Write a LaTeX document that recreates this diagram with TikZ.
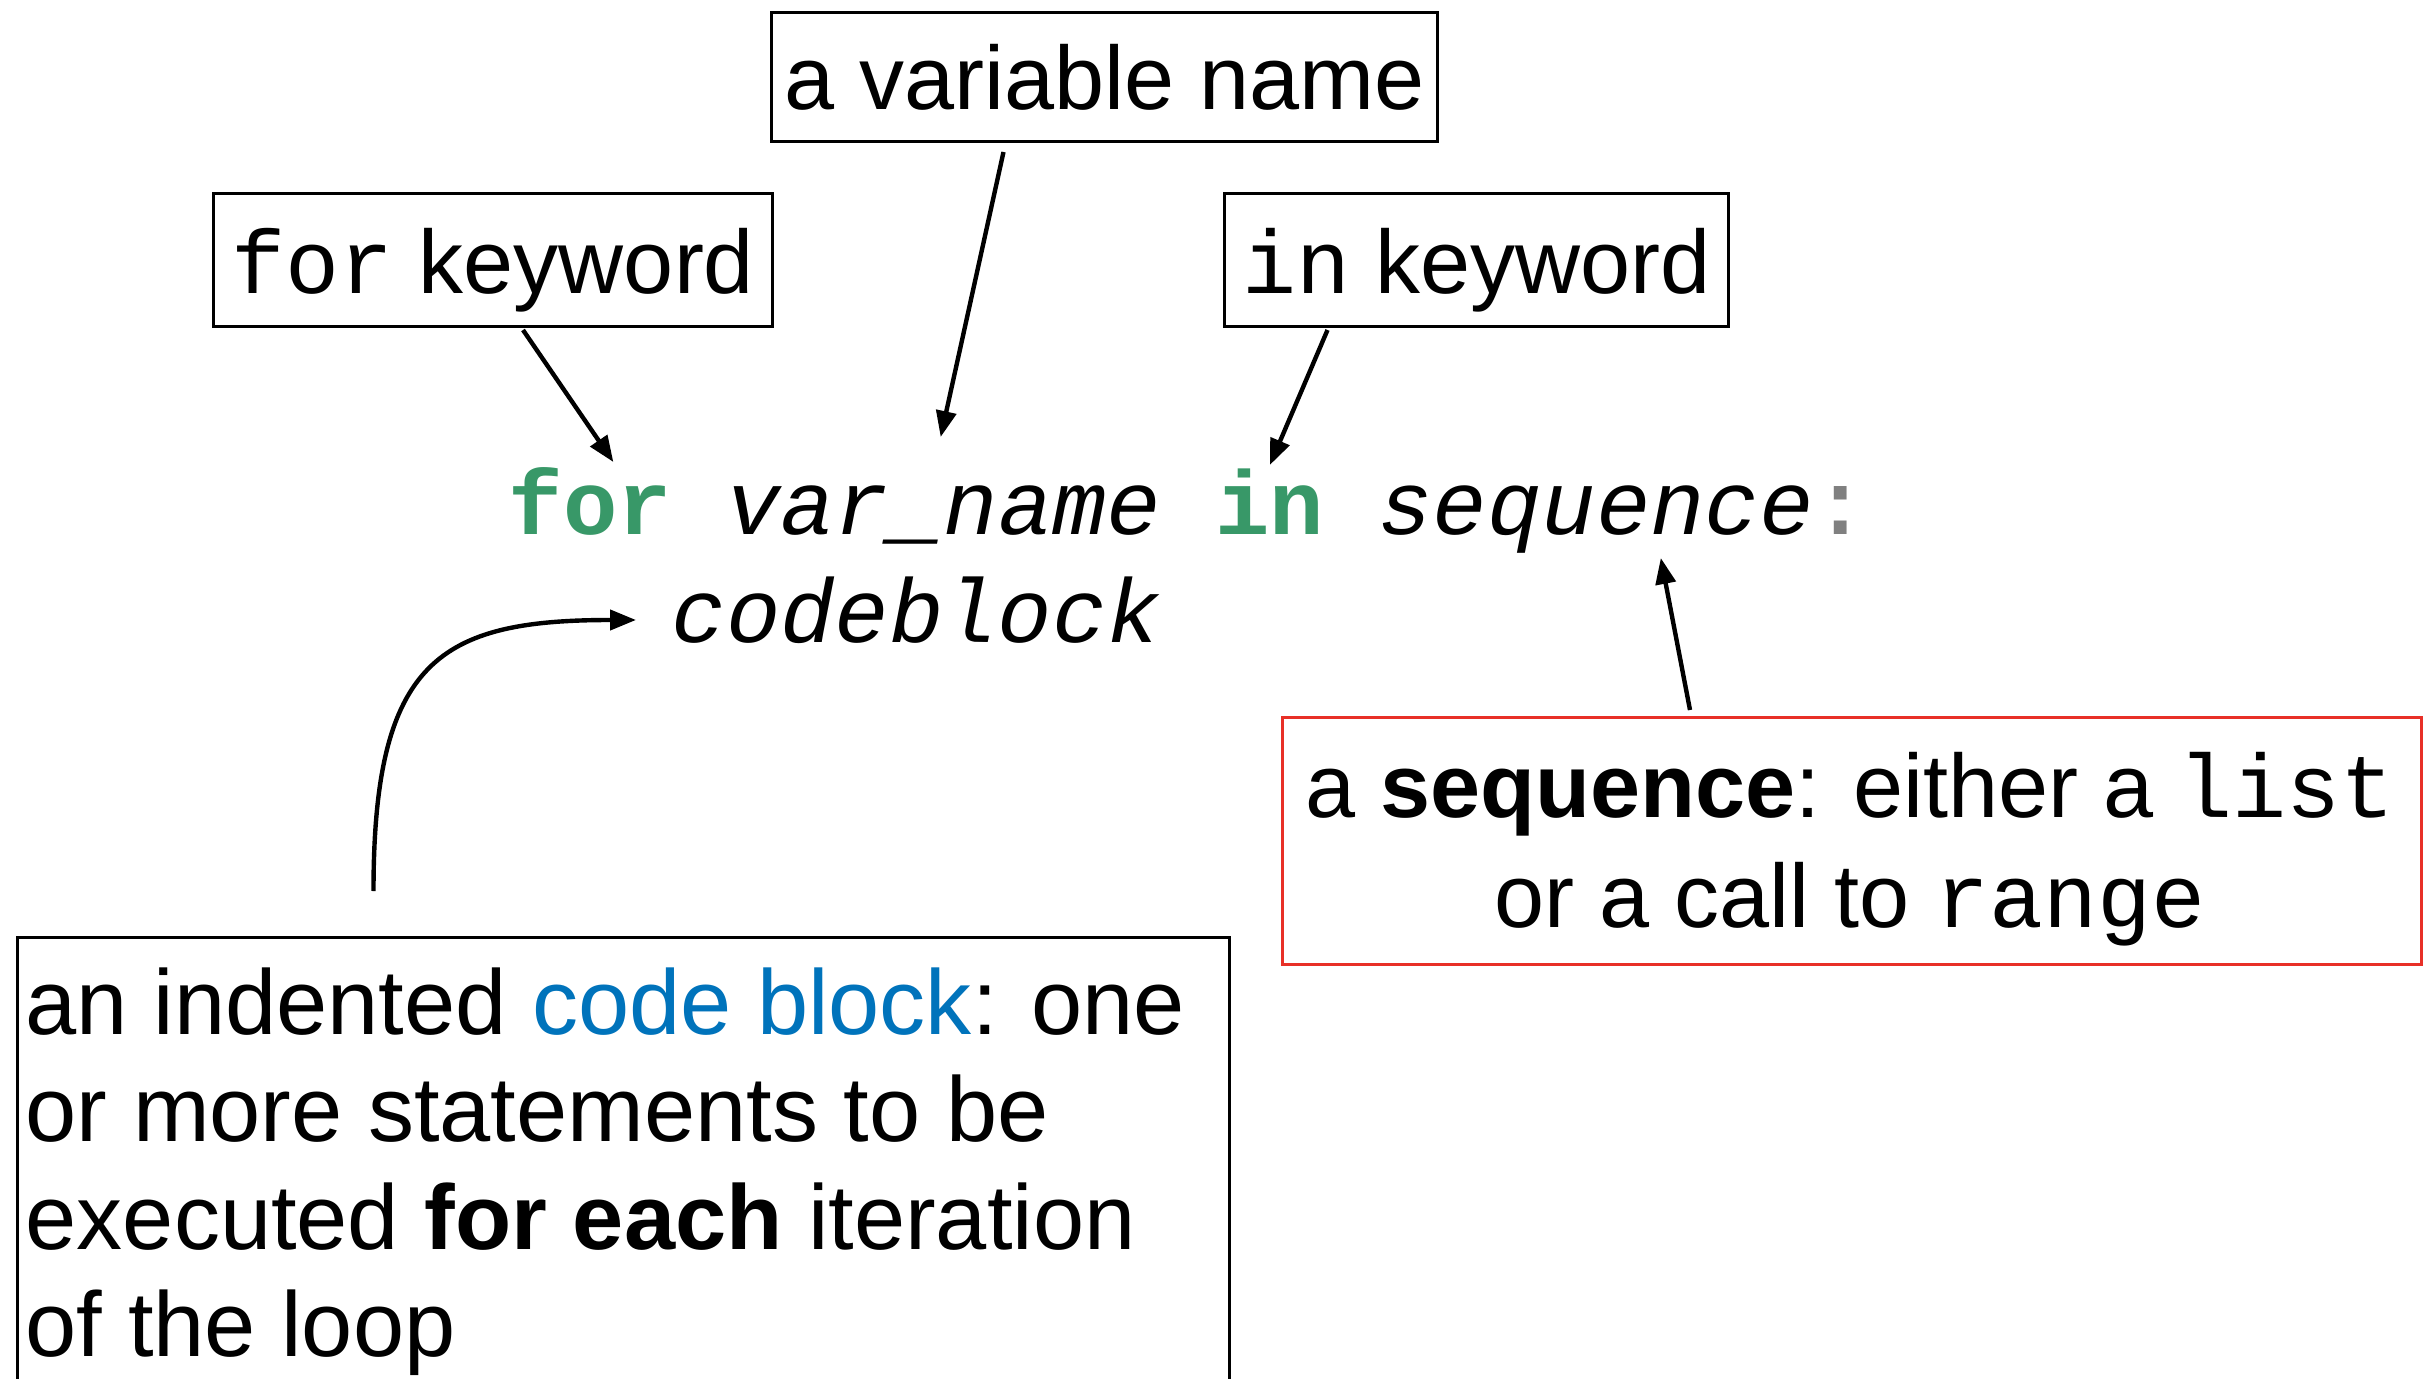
\documentclass[tikz,border=0pt]{standalone}
\usepackage{fontspec}
\setmainfont{Liberation Sans}
\setmonofont{Liberation Mono}
\usetikzlibrary{arrows.meta,calc}
\definecolor{kwgreen}{RGB}{56,152,104}
\definecolor{cbblue}{RGB}{0,115,187}
\definecolor{seqred}{RGB}{232,48,40}
\definecolor{colgray}{RGB}{128,128,128}
\begin{document}
\begin{tikzpicture}[x=0.25pt,y=-0.25pt,
  lbox/.style={draw, line width=0.75pt, inner sep=0pt, anchor=north west,
    font=\fontsize{22.5}{27}\selectfont},
  lbl/.style={inner sep=0pt, font=\fontsize{22.5}{27}\selectfont},
  cbl/.style={inner sep=0pt, anchor=base west, font=\fontsize{23}{27}\selectfont},
  code/.style={inner sep=0pt, anchor=base west, font=\fontsize{22.65}{27}\selectfont\ttfamily},
  arr/.style={line width=1.1pt, -{Triangle[length=6.5pt,width=5pt]}}]
\clip (0,0) rectangle (2431,1379);
\fill[white] (0,0) rectangle (2431,1379);

% label boxes
\node[lbox, minimum width=166.5pt, text height=24.25pt, text depth=8pt] (varbox) at (770,11) {a variable name};
\node[lbox, minimum width=139.75pt, text height=25pt, text depth=8.25pt] (forkw) at (212,192) {\texttt{for} keyword};
\node[lbox, minimum width=126pt, text height=25pt, text depth=8.25pt] (inkw) at (1223,192) {\texttt{in} keyword};

% code
\node[code, text=kwgreen] (kwfor) at (508,535) {\bfseries for};
\node[code] (varname) at (725.4,535) {\itshape var\_name};
\node[code, text=kwgreen] (kwin) at (1214.7,535) {\bfseries in};
\node[code] (seq) at (1377.8,535) {\itshape sequence};
\node[code, text=colgray] (colon) at (1812.6,535) {\bfseries :};
\node[code] (codeblock) at (671,643) {\itshape codeblock};

% sequence box
\node[draw=seqred, line width=0.75pt, inner sep=0pt, anchor=north west,
  minimum width=284.75pt, minimum height=61.75pt] (seqbox) at (1281,716) {};
\node[lbl, anchor=base] (seq1) at (1850,817) {a \textbf{sequence}: either a \texttt{list}};
\node[lbl, anchor=base] (seq2) at (1850,927) {or a call to \texttt{range}};

% code block box
\node[draw, line width=0.75pt, inner sep=0pt, anchor=north west,
  minimum width=303pt, minimum height=125pt] (cbbox) at (16,936) {};
\node[cbl] (cb1) at (25,1034) {an indented \textcolor{cbblue}{code block}: one};
\node[cbl] (cb2) at (25,1141) {or more statements to be};
\node[cbl] (cb3) at (25,1249) {executed \textbf{for each} iteration};
\node[cbl] (cb4) at (25,1356) {of the loop};

% connectors
\draw[arr] ($(forkw.south)+(30,2)$) -- ($(kwfor.base)+(23,-73)$);
\draw[arr] ($(varbox.south)+(-101,9)$) -- ($(varname.base)+(-3,-98)$);
\draw[arr] ($(inkw.south)+(-149,2)$) -- ($(kwin.base)+(0,-70)$);
\draw[arr] ($(seqbox.north)+(-162,-6)$) -- ($(seq.base west)+(283,23)$);
\draw[arr] ($(cbbox.north)+(-250,-45)$) .. controls ($(cbbox.north)+(-250,-276)$) and ($(codeblock.base west)+(-231,-23)$) .. ($(codeblock.base west)+(-35,-23)$);
\end{tikzpicture}
\end{document}
